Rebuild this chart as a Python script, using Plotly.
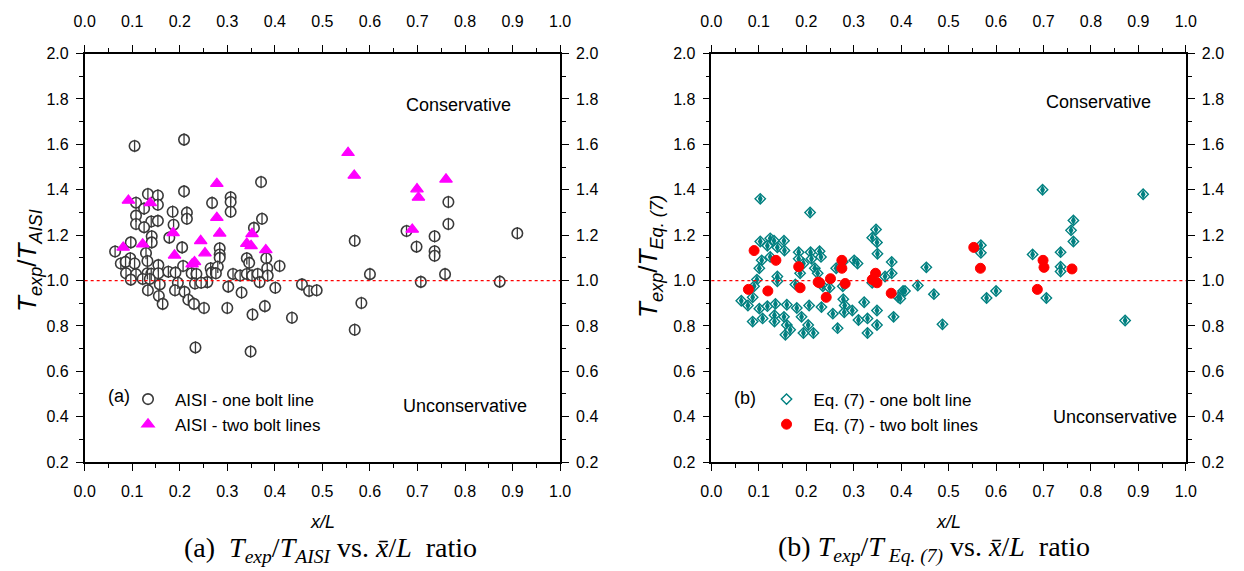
import plotly.graph_objects as go

# ---------------- data ----------------
# (a) AISI predictions, one bolt line
aisi_one_x = [0.105, 0.209, 0.209, 0.371, 0.133, 0.154, 0.108, 0.154, 0.125, 0.268,
              0.307, 0.307, 0.307, 0.215, 0.215, 0.185, 0.108, 0.140, 0.154, 0.108,
              0.125, 0.187, 0.373, 0.356, 0.141, 0.178, 0.141, 0.097, 0.064, 0.205,
              0.129, 0.284, 0.284, 0.341, 0.382, 0.132, 0.096, 0.076, 0.086, 0.105,
              0.284, 0.155, 0.207, 0.346, 0.265, 0.280, 0.410, 0.384, 0.087, 0.108,
              0.132, 0.140, 0.155, 0.176, 0.191, 0.225, 0.235, 0.267, 0.276, 0.312,
              0.327, 0.341, 0.352, 0.364, 0.385, 0.097, 0.122, 0.137, 0.258, 0.232,
              0.245, 0.196, 0.158, 0.368, 0.302, 0.401, 0.133, 0.190, 0.210, 0.330,
              0.218, 0.156, 0.164, 0.230, 0.251, 0.300, 0.379, 0.457, 0.472, 0.488,
              0.436, 0.233, 0.349, 0.353, 0.568, 0.600, 0.582, 0.568, 0.677, 0.698,
              0.707, 0.736, 0.736, 0.736, 0.758, 0.765, 0.765, 0.873, 0.910]
aisi_one_y = [1.593, 1.621, 1.393, 1.434, 1.381, 1.375, 1.343, 1.334, 1.317, 1.342,
              1.367, 1.346, 1.303, 1.299, 1.272, 1.303, 1.286, 1.260, 1.263, 1.249,
              1.235, 1.246, 1.272, 1.232, 1.195, 1.189, 1.168, 1.168, 1.128, 1.146,
              1.121, 1.142, 1.115, 1.098, 1.098, 1.086, 1.098, 1.075, 1.082, 1.075,
              1.100, 1.068, 1.064, 1.078, 1.054, 1.061, 1.064, 1.054, 1.032, 1.028,
              1.032, 1.030, 1.032, 1.039, 1.035, 1.032, 1.029, 1.035, 1.032, 1.029,
              1.022, 1.029, 1.022, 1.029, 1.022, 1.004, 1.007, 1.007, 0.993, 0.987,
              0.990, 0.990, 0.983, 0.993, 0.973, 0.968, 0.957, 0.957, 0.950, 0.947,
              0.915, 0.932, 0.897, 0.897, 0.879, 0.879, 0.887, 0.983, 0.954, 0.957,
              0.836, 0.705, 0.687, 0.850, 1.175, 1.028, 0.901, 0.783, 1.218, 1.149,
              0.994, 1.195, 1.129, 1.109, 1.028, 1.346, 1.249, 0.995, 1.208]

# (a) AISI predictions, two bolt lines
aisi_two_x = [0.092, 0.138, 0.081, 0.122, 0.186, 0.189, 0.244, 0.253, 0.231, 0.226,
              0.278, 0.278, 0.284, 0.352, 0.341, 0.350, 0.381, 0.554, 0.567, 0.699,
              0.702, 0.760, 0.689]
aisi_two_y = [1.353, 1.342, 1.146, 1.160, 1.210, 1.111, 1.175, 1.121, 1.082, 1.072,
              1.427, 1.277, 1.208, 1.206, 1.163, 1.153, 1.135, 1.563, 1.463, 1.403,
              1.366, 1.446, 1.225]

# (b) Eq. (7) predictions, one bolt line
eq7_one_x = [0.103, 0.208, 0.103, 0.124, 0.132, 0.153, 0.106, 0.118, 0.139, 0.154,
             0.101, 0.124, 0.139, 0.139, 0.096, 0.090, 0.063, 0.077, 0.087, 0.101,
             0.087, 0.108, 0.118, 0.135, 0.133, 0.133, 0.153, 0.159, 0.159, 0.156,
             0.166, 0.180, 0.190, 0.194, 0.204, 0.215, 0.206, 0.184, 0.184, 0.187,
             0.177, 0.194, 0.209, 0.211, 0.218, 0.228, 0.231, 0.224, 0.235, 0.232,
             0.249, 0.256, 0.266, 0.263, 0.277, 0.277, 0.278, 0.281, 0.280, 0.297,
             0.301, 0.308, 0.310, 0.322, 0.329, 0.329, 0.339, 0.347, 0.349, 0.350,
             0.339, 0.349, 0.349, 0.366, 0.380, 0.380, 0.384, 0.394, 0.404, 0.435,
             0.453, 0.469, 0.698, 0.910, 0.763, 0.758, 0.763, 0.568, 0.568, 0.677,
             0.736, 0.736, 0.736, 0.408, 0.398, 0.487, 0.580, 0.600, 0.706, 0.872]
eq7_one_y = [1.360, 1.300, 1.172, 1.186, 1.175, 1.175, 1.089, 1.153, 1.146, 1.132,
             1.054, 1.104, 1.018, 0.997, 1.004, 0.975, 0.911, 0.890, 0.926, 0.876,
             0.819, 0.833, 0.887, 0.897, 0.847, 0.819, 0.840, 0.893, 0.804, 0.761,
             0.783, 0.879, 0.840, 0.769, 0.804, 0.769, 0.890, 1.125, 1.096, 1.032,
             0.983, 1.075, 1.125, 1.096, 1.054, 1.129, 1.104, 1.032, 0.975, 0.883,
             0.968, 0.854, 0.790, 1.054, 1.082, 0.975, 0.918, 0.890, 0.860, 0.868,
             1.089, 1.075, 0.826, 0.904, 0.833, 0.769, 1.189, 1.225, 1.168, 1.118,
             0.990, 0.868, 0.804, 1.018, 1.082, 1.032, 0.840, 0.926, 0.954, 0.978,
             1.058, 0.940, 1.400, 1.380, 1.265, 1.221, 1.172, 1.156, 1.122, 1.115,
             1.125, 1.061, 1.040, 0.954, 0.921, 0.807, 0.923, 0.954, 0.923, 0.824]

# (b) Eq. (7) predictions, two bolt lines
eq7_two_x = [0.090, 0.136, 0.184, 0.275, 0.275, 0.346, 0.339, 0.349, 0.251, 0.228,
             0.225, 0.282, 0.187, 0.078, 0.119, 0.242, 0.379, 0.553, 0.567, 0.699,
             0.701, 0.760, 0.687]
eq7_two_y = [1.132, 1.089, 1.061, 1.089, 1.054, 1.032, 1.004, 0.990, 1.008, 0.990,
             0.993, 0.987, 0.968, 0.961, 0.954, 0.926, 0.944, 1.146, 1.054, 1.089,
             1.058, 1.051, 0.961]

x_ticks = [0.0, 0.1, 0.2, 0.3, 0.4, 0.5, 0.6, 0.7, 0.8, 0.9, 1.0]
y_ticks = [0.2, 0.4, 0.6, 0.8, 1.0, 1.2, 1.4, 1.6, 1.8, 2.0]

# ---------------- page geometry ----------------
W, H = 1244, 571


def px(xp):
    return xp / W


def py(yp):
    return 1 - yp / H


TOP, BOTTOM = 47, 468
LEFT_A, RIGHT_A = 75, 559
LEFT_B, RIGHT_B = 713, 1196

SANS = "Liberation Sans, Arial, sans-serif"
SERIF = "Liberation Serif, Times New Roman, serif"

GREY = "#3a3a3a"
MAGENTA = "#ff00ff"
TEAL = "#008080"
RED = "#ff0000"

fig = go.Figure()

# ---- panel (a) ----
fig.add_trace(go.Scatter(
    x=aisi_one_x, y=aisi_one_y, mode="markers", xaxis="x", yaxis="y",
    name="AISI - one bolt line", legend="legend", legendgroup="a1",
    marker=dict(symbol="circle", size=10.5, color="white",
                line=dict(color=GREY, width=1.6))))
fig.add_trace(go.Scatter(
    x=aisi_one_x, y=aisi_one_y, mode="markers", xaxis="x", yaxis="y",
    showlegend=False, legendgroup="a1", hoverinfo="skip",
    marker=dict(symbol="line-ns", size=9, line=dict(color=GREY, width=1.3))))
fig.add_trace(go.Scatter(
    x=aisi_two_x, y=aisi_two_y, mode="markers", xaxis="x", yaxis="y",
    name="AISI - two bolt lines", legend="legend",
    marker=dict(symbol="triangle-up", size=11, color=MAGENTA,
                line=dict(color=MAGENTA, width=1.2))))

# ---- panel (b) ----
fig.add_trace(go.Scatter(
    x=eq7_one_x, y=eq7_one_y, mode="markers", xaxis="x2", yaxis="y2",
    name="Eq. (7) - one bolt line", legend="legend2", legendgroup="b1",
    marker=dict(symbol="diamond", size=8, color="white",
                line=dict(color=TEAL, width=1.4))))
fig.add_trace(go.Scatter(
    x=eq7_one_x, y=eq7_one_y, mode="markers", xaxis="x2", yaxis="y2",
    showlegend=False, legendgroup="b1", hoverinfo="skip",
    marker=dict(symbol="diamond-tall", size=7, color=TEAL,
                line=dict(color=TEAL, width=0))))
fig.add_trace(go.Scatter(
    x=eq7_two_x, y=eq7_two_y, mode="markers", xaxis="x2", yaxis="y2",
    name="Eq. (7) - two bolt lines", legend="legend2",
    marker=dict(symbol="circle", size=10, color=RED,
                line=dict(color=RED, width=1))))


def axis_style(standoff, **kw):
    base = dict(
        showline=True, linecolor="black", linewidth=1.5, mirror=False,
        showgrid=False, zeroline=False,
        ticks="outside", ticklen=7, tickwidth=1.4, tickcolor="black",
        ticklabelstandoff=standoff,
        tickfont=dict(family=SANS, size=16, color="black"),
        tickformat=".1f",
    )
    base.update(kw)
    return base


xa_common = dict(range=[0, 1], tickvals=x_ticks,
                 minor=dict(dtick=0.05, ticks="outside", ticklen=4,
                            tickwidth=1.4, tickcolor="black"))
ya_common = dict(range=[0.2, 2.0], tickvals=y_ticks,
                 minor=dict(dtick=0.1, ticks="outside", ticklen=4,
                            tickwidth=1.4, tickcolor="black"))

dom_y = [py(BOTTOM), py(TOP)]
dom_a = [px(LEFT_A), px(RIGHT_A)]
dom_b = [px(LEFT_B), px(RIGHT_B)]

XS, XT, YS = 7, 11, 4   # label distance from the axis lines

fig.update_layout(
    width=W, height=H,
    margin=dict(l=0, r=0, t=0, b=0),
    paper_bgcolor="white", plot_bgcolor="white",
    xaxis=axis_style(XS, domain=dom_a, anchor="y", **xa_common),
    yaxis=axis_style(YS, domain=dom_y, anchor="x", **ya_common),
    xaxis3=axis_style(XT, overlaying="x", side="top", anchor="y", **xa_common),
    yaxis3=axis_style(YS, overlaying="y", side="right", anchor="x", **ya_common),
    xaxis2=axis_style(XS, domain=dom_b, anchor="y2", **xa_common),
    yaxis2=axis_style(YS, domain=dom_y, anchor="x2", **ya_common),
    xaxis4=axis_style(XT, overlaying="x2", side="top", anchor="y2", **xa_common),
    yaxis4=axis_style(YS, overlaying="y2", side="right", anchor="x2", **ya_common),
    legend=dict(x=px(112), y=py(385), xanchor="left", yanchor="top",
                bgcolor="rgba(0,0,0,0)", itemwidth=44, tracegroupgap=0,
                font=dict(family=SANS, size=17, color="black")),
    legend2=dict(x=px(762), y=py(385), xanchor="left", yanchor="top",
                 bgcolor="rgba(0,0,0,0)", itemwidth=44, tracegroupgap=0,
                 font=dict(family=SANS, size=17, color="black")),
    showlegend=True,
)

# empty traces so the mirrored top/right axes get drawn
for xa, ya in (("x3", "y3"), ("x4", "y4")):
    fig.add_trace(go.Scatter(x=[], y=[], xaxis=xa, yaxis=ya, showlegend=False))

# reference line at ratio = 1.0
for xr, yr in (("x", "y"), ("x2", "y2")):
    fig.add_shape(type="line", xref=f"{xr} domain", yref=yr,
                  x0=0, x1=1, y0=1.0, y1=1.0,
                  line=dict(color=RED, width=1.2, dash="dot"))

ann = []


def text(x, y, s, size, family=SANS, angle=0, xref="paper", yref="paper",
         xanchor="center"):
    ann.append(dict(x=x, y=y, xref=xref, yref=yref, text=s, showarrow=False,
                    textangle=angle, xanchor=xanchor, yanchor="middle",
                    font=dict(family=family, size=size, color="black")))


# zone labels
text(0.787, 1.772, "Conservative", 18, xref="x", yref="y")
text(0.800, 0.445, "Unconservative", 18, xref="x", yref="y")
text(0.816, 1.785, "Conservative", 18, xref="x2", yref="y2")
text(0.851, 0.400, "Unconservative", 18, xref="x2", yref="y2")

# panel tags inside the legends
text(px(110), py(400), "(a)", 18)
text(px(747), py(402), "(b)", 18)

# axis titles
text(px(18), py(260), "<i>T<sub>exp</sub></i>/<i>T<sub>AISI</sub></i>", 26, angle=-90)
text(px(650), py(256), "<i>T<sub>exp</sub></i>/<i>T<sub>Eq. (7)</sub></i>", 26, angle=-90)
text(px((LEFT_A + RIGHT_A) / 2), py(530), "<i>x/L</i>", 18)
text(px((LEFT_B + RIGHT_B) / 2), py(530), "<i>x/L</i>", 18)

# captions
text(px(325), py(558),
     "(a)\u00a0\u00a0<i>T<sub>exp</sub></i>/<i>T<sub>AISI</sub></i> vs. "
     "<i>x\u0304</i>/<i>L</i>\u00a0\u00a0ratio", 28, family=SERIF)
text(px(940), py(558),
     "(b) <i>T<sub>exp</sub></i>/<i>T<sub>\u00a0Eq. (7)</sub></i> vs. "
     "<i>x\u0304</i>/<i>L</i>\u00a0\u00a0ratio", 28, family=SERIF)

fig.update_layout(annotations=ann)

fig.write_html("out.html")
